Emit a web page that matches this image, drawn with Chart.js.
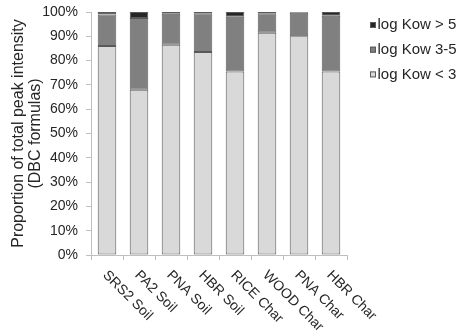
<!DOCTYPE html>
<html>
<head>
<meta charset="utf-8">
<script src="https://cdn.jsdelivr.net/npm/chart.js@4.4.1/dist/chart.umd.min.js"></script>
<style>
  html, body { margin: 0; padding: 0; background: #fff; }
  #wrap { width: 459px; height: 335px; }
</style>
</head>
<body>
<div id="wrap"><canvas id="grafico"></canvas></div>
<script>
// data
const amostras = ["SRS2 Soil", "PA2 Soil", "PNA Soil", "HBR Soil", "RICE Char", "WOOD Char", "PNA Char", "HBR Char"];
const kowMenor3 = [86, 68, 86.5, 83.5, 75.5, 91.5, 90, 75.5];
const kow3a5 = [13, 29.5, 12.8, 16, 22.5, 8, 9.7, 23];
const kowMaior5 = [1, 2.5, 0.7, 0.5, 2, 0.5, 0.3, 1.5];
const ticksY = [0, 10, 20, 30, 40, 50, 60, 70, 80, 90, 100];

const fonte = "'Liberation Sans', Arial, sans-serif";
const corTexto = '#262626';
const corBorda = '#595959';

// rotated category labels, running down to the right
const rotulosX = {
    id: 'rotulosX',
    afterDraw(chart) {
        const ctx = chart.ctx;
        const x = chart.scales.x;
        ctx.save();
        ctx.font = '14px ' + fonte;
        ctx.fillStyle = corTexto;
        ctx.textAlign = 'left';
        ctx.textBaseline = 'middle';
        amostras.forEach((nome, i) => {
            const px = x.getPixelForValue(i);
            ctx.save();
            ctx.translate(px - 2, x.bottom + 13);
            ctx.rotate(Math.PI / 4);
            ctx.fillText(nome, 0, 0);
            ctx.restore();
        });
        ctx.restore();
    }
};

// legend on the right, top series first
const legenda = {
    id: 'legenda',
    afterDraw(chart) {
        const ctx = chart.ctx;
        const area = chart.chartArea;
        const itens = chart.data.datasets.slice().reverse();
        ctx.save();
        ctx.font = '15px ' + fonte;
        ctx.textAlign = 'left';
        ctx.textBaseline = 'middle';
        itens.forEach((ds, i) => {
            const x0 = 370;
            const y0 = area.top + 13 + i * 24.7;
            ctx.fillStyle = ds.backgroundColor;
            ctx.fillRect(x0, y0 - 3, 6, 6);
            ctx.strokeStyle = corBorda;
            ctx.lineWidth = 1;
            ctx.strokeRect(x0 + 0.5, y0 - 2.5, 5, 5);
            ctx.fillStyle = corTexto;
            ctx.fillText(ds.label, x0 + 7.5, y0);
        });
        ctx.restore();
    }
};

const ctx = document.getElementById('grafico').getContext('2d');
new Chart(ctx, {
    type: 'bar',
    data: {
        labels: amostras,
        datasets: [
            { label: 'log Kow < 3', data: kowMenor3, backgroundColor: '#d9d9d9' },
            { label: 'log Kow 3-5', data: kow3a5, backgroundColor: '#808080' },
            { label: 'log Kow > 5', data: kowMaior5, backgroundColor: '#262626' }
        ].map(d => Object.assign(d, {
            borderColor: corBorda,
            borderWidth: 1,
            borderSkipped: false,
            barPercentage: 0.58,
            categoryPercentage: 1
        }))
    },
    options: {
        responsive: true,
        maintainAspectRatio: false,
        animation: false,
        layout: { padding: { left: 0, top: 12, right: 112, bottom: 75 } },
        scales: {
            x: {
                stacked: true,
                offset: true,
                grid: { offset: true, drawOnChartArea: false, drawTicks: true, tickLength: 5, color: '#bfbfbf' },
                border: { color: '#bfbfbf' },
                ticks: { display: false }
            },
            y: {
                stacked: true,
                min: 0,
                max: 100,
                afterBuildTicks: axis => { axis.ticks = ticksY.map(v => ({ value: v })); },
                afterFit: axis => {
                    axis.width = 91;
                    axis.paddingTop = 0;
                    axis.paddingBottom = 0;
                },
                grid: { drawOnChartArea: false, drawTicks: true, tickLength: 5, color: '#bfbfbf' },
                border: { color: '#bfbfbf' },
                ticks: {
                    padding: 8,
                    color: corTexto,
                    font: { family: fonte, size: 14 },
                    callback: v => v + '%'
                },
                title: {
                    display: true,
                    text: ['Proportion of total peak intensity', '(DBC formulas)'],
                    color: corTexto,
                    font: { family: fonte, size: 16, lineHeight: 1.07 },
                    padding: { top: 10, bottom: 0 }
                }
            }
        },
        plugins: {
            legend: { display: false },
            tooltip: { enabled: false }
        }
    },
    plugins: [rotulosX, legenda]
});
</script>
</body>
</html>
